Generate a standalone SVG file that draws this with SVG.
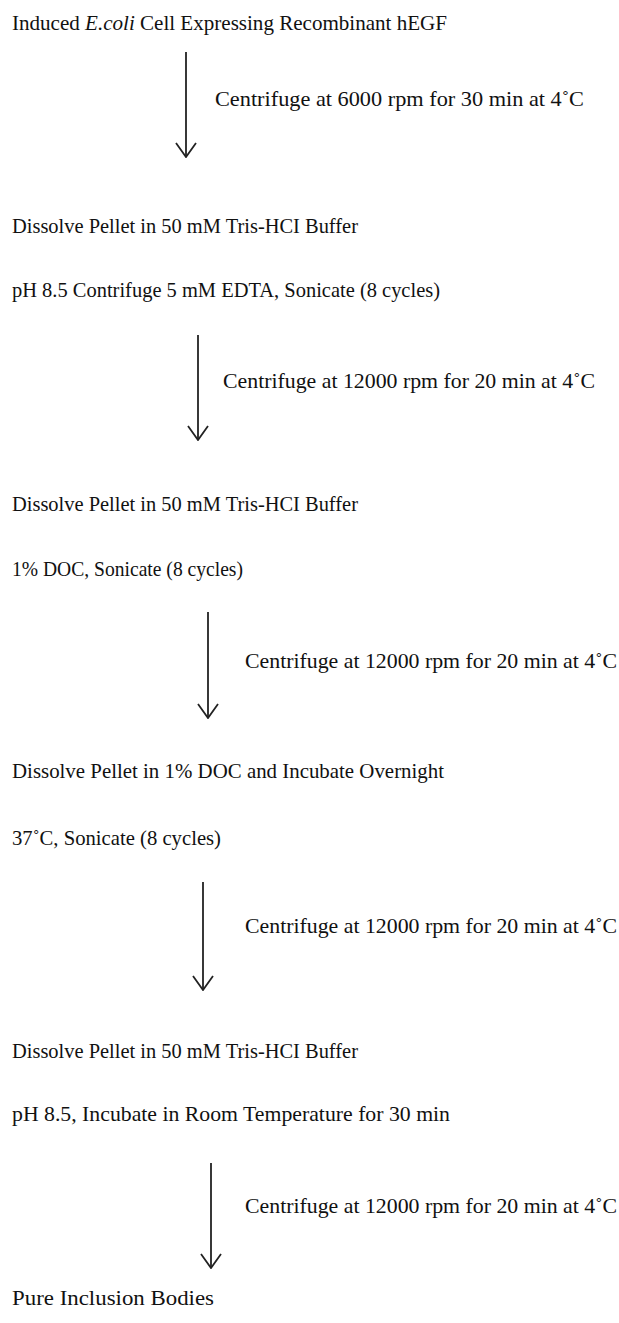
<svg xmlns="http://www.w3.org/2000/svg" width="619" height="1323" viewBox="0 0 619 1323">
<style>
text{font-family:"Liberation Serif","Times New Roman",serif;font-size:21px;fill:#111;}
.ar{stroke:#222;stroke-width:1.8;fill:none;}
</style>
<defs>
<marker id="vh" viewBox="0 0 16 24" refX="15" refY="12" markerWidth="16" markerHeight="24" markerUnits="userSpaceOnUse" orient="auto">
<path d="M1,2 L15,12 L1,22" stroke="#222" stroke-width="1.8" fill="none"/>
</marker>
</defs>
<rect width="619" height="1323" fill="#fff"/>
<g id="n1"><text x="12" y="30" textLength="435" lengthAdjust="spacingAndGlyphs">Induced <tspan font-style="italic">E.coli</tspan> Cell Expressing Recombinant hEGF</text></g>
<g id="n2"><text x="12" y="233" textLength="346" lengthAdjust="spacingAndGlyphs">Dissolve Pellet in 50 mM Tris-HCI Buffer</text></g>
<g id="n3"><text x="12" y="297" textLength="428" lengthAdjust="spacingAndGlyphs">pH 8.5 Contrifuge 5 mM EDTA, Sonicate (8 cycles)</text></g>
<g id="n4"><text x="12" y="511" textLength="346" lengthAdjust="spacingAndGlyphs">Dissolve Pellet in 50 mM Tris-HCI Buffer</text></g>
<g id="n5"><text x="12" y="576" textLength="231" lengthAdjust="spacingAndGlyphs">1% DOC, Sonicate (8 cycles)</text></g>
<g id="n6"><text x="12" y="778" textLength="432" lengthAdjust="spacingAndGlyphs">Dissolve Pellet in 1% DOC and Incubate Overnight</text></g>
<g id="n7"><text x="12" y="845" textLength="209" lengthAdjust="spacingAndGlyphs">37˚C, Sonicate (8 cycles)</text></g>
<g id="n8"><text x="12" y="1058" textLength="346" lengthAdjust="spacingAndGlyphs">Dissolve Pellet in 50 mM Tris-HCI Buffer</text></g>
<g id="n9"><text x="12" y="1121" textLength="438" lengthAdjust="spacingAndGlyphs">pH 8.5, Incubate in Room Temperature for 30 min</text></g>
<g id="n10"><text x="12" y="1305" textLength="202" lengthAdjust="spacingAndGlyphs">Pure Inclusion Bodies</text></g>
<g id="connectors">
<line class="ar" x1="186" y1="52" x2="186" y2="157" marker-end="url(#vh)"/>
<text x="215" y="106" textLength="369" lengthAdjust="spacingAndGlyphs">Centrifuge at 6000 rpm for 30 min at 4˚C</text>
<line class="ar" x1="198" y1="335" x2="198" y2="440" marker-end="url(#vh)"/>
<text x="223" y="388" textLength="372" lengthAdjust="spacingAndGlyphs">Centrifuge at 12000 rpm for 20 min at 4˚C</text>
<line class="ar" x1="208" y1="612" x2="208" y2="718" marker-end="url(#vh)"/>
<text x="245" y="668" textLength="372" lengthAdjust="spacingAndGlyphs">Centrifuge at 12000 rpm for 20 min at 4˚C</text>
<line class="ar" x1="203" y1="882" x2="203" y2="990" marker-end="url(#vh)"/>
<text x="245" y="933" textLength="372" lengthAdjust="spacingAndGlyphs">Centrifuge at 12000 rpm for 20 min at 4˚C</text>
<line class="ar" x1="211" y1="1163" x2="211" y2="1268" marker-end="url(#vh)"/>
<text x="245" y="1213" textLength="372" lengthAdjust="spacingAndGlyphs">Centrifuge at 12000 rpm for 20 min at 4˚C</text>
</g>
</svg>
